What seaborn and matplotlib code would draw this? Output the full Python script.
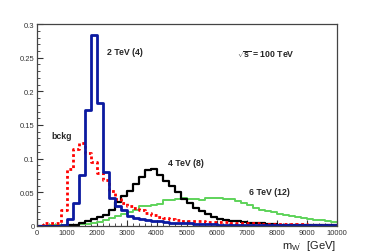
import numpy as np
import pandas as pd
import matplotlib
matplotlib.use('Agg')
import matplotlib.pyplot as plt
import seaborn as sns
from matplotlib.ticker import MultipleLocator, FuncFormatter

# 200 GeV bins from 0 to 10 TeV
edges = list(range(0, 10001, 200))
centers = [e + 100 for e in edges[:-1]]

bckg = [0.0, 0.004, 0.004, 0.005, 0.023, 0.085, 0.114, 0.123, 0.108, 0.095,
        0.079, 0.068, 0.052, 0.040, 0.034, 0.030, 0.027, 0.023, 0.019, 0.016,
        0.014, 0.012, 0.010, 0.009, 0.008, 0.0075, 0.007, 0.007, 0.0065, 0.006,
        0.006, 0.0055, 0.005, 0.005, 0.0045, 0.004, 0.004, 0.0035, 0.0035, 0.003,
        0.003, 0.003, 0.0025, 0.0025, 0.0025, 0.002, 0.002, 0.002, 0.0015, 0.0015]

wp_2tev = [0.0, 0.0, 0.0, 0.0, 0.002, 0.011, 0.034, 0.075, 0.173, 0.284,
           0.182, 0.080, 0.042, 0.030, 0.024, 0.015, 0.012, 0.010, 0.009, 0.008,
           0.007, 0.006, 0.005, 0.005, 0.004, 0.004, 0.003, 0.003, 0.003, 0.003,
           0.002, 0.002, 0.002, 0.002, 0.002, 0.002, 0.002, 0.002, 0.002, 0.002,
           0.001, 0.001, 0.001, 0.001, 0.001, 0.001, 0.001, 0.001, 0.001, 0.001]

wp_4tev = [0.0, 0.0, 0.0, 0.0, 0.0, 0.001, 0.002, 0.004, 0.007, 0.010,
           0.013, 0.016, 0.023, 0.035, 0.045, 0.052, 0.063, 0.073, 0.083, 0.085,
           0.076, 0.067, 0.059, 0.050, 0.040, 0.034, 0.027, 0.022, 0.018, 0.014,
           0.011, 0.009, 0.008, 0.007, 0.006, 0.005, 0.004, 0.004, 0.003, 0.003,
           0.002, 0.002, 0.002, 0.0015, 0.0015, 0.0015, 0.001, 0.001, 0.001, 0.001]

wp_6tev = [0.0, 0.0, 0.001, 0.001, 0.001, 0.0015, 0.002, 0.0025, 0.003, 0.0045,
           0.006, 0.009, 0.012, 0.015, 0.018, 0.020, 0.023, 0.029, 0.029, 0.031,
           0.033, 0.038, 0.038, 0.040, 0.041, 0.040, 0.040, 0.038, 0.042, 0.041,
           0.041, 0.040, 0.040, 0.037, 0.034, 0.031, 0.027, 0.024, 0.022, 0.020,
           0.018, 0.016, 0.015, 0.013, 0.012, 0.010, 0.0095, 0.0085, 0.007, 0.006]

df = pd.DataFrame({'m': centers, 'bckg': bckg, 'w2': wp_2tev,
                   'w4': wp_4tev, 'w6': wp_6tev})

sns.set_style('white')
plt.rcParams['font.family'] = ['Liberation Sans', 'DejaVu Sans']
plt.rcParams['mathtext.fontset'] = 'custom'
plt.rcParams['mathtext.rm'] = 'Liberation Sans'
plt.rcParams['mathtext.it'] = 'Liberation Sans'
plt.rcParams['mathtext.bf'] = 'Liberation Sans:bold'

fig = plt.figure(figsize=(3.74, 2.53), dpi=100)
ax = fig.add_axes([0.098, 0.103, 0.802, 0.798])

# green, black, red, blue
sns.histplot(data=df, x='m', weights='w6', bins=edges, element='step', fill=False,
             color='#5ed35a', linewidth=1.4, ax=ax)
sns.histplot(data=df, x='m', weights='w4', bins=edges, element='step', fill=False,
             color='black', linewidth=1.6, ax=ax)
sns.histplot(data=df, x='m', weights='bckg', bins=edges, element='step', fill=False,
             color='#ff0000', linewidth=2.0, linestyle=(0, (1, 1)), ax=ax)
sns.histplot(data=df, x='m', weights='w2', bins=edges, element='step', fill=False,
             color='#0b1aa0', linewidth=2.0, ax=ax)

ax.set_xlim(0, 10000)
ax.set_ylim(0, 0.3)
ax.set_xlabel('')
ax.set_ylabel('')

ax.xaxis.set_major_locator(MultipleLocator(1000))
ax.xaxis.set_minor_locator(MultipleLocator(200))
ax.yaxis.set_major_locator(MultipleLocator(0.05))
ax.yaxis.set_minor_locator(MultipleLocator(0.01))
ax.yaxis.set_major_formatter(FuncFormatter(lambda v, p: '%g' % round(v, 3)))
ax.xaxis.set_major_formatter(FuncFormatter(lambda v, p: '%d' % v))

ax.tick_params(which='both', direction='in', top=False, right=False,
               left=True, bottom=True, colors='#333333', labelsize=5.5)
ax.tick_params(which='major', length=4.5, width=0.8)
ax.tick_params(which='minor', length=2.2, width=0.6)
ax.tick_params(axis='y', pad=1.5)
ax.tick_params(axis='x', pad=2)

for s in ax.spines.values():
    s.set_color('#444444')
    s.set_linewidth(0.9)

tkw = dict(transform=ax.transAxes, fontsize=6.3, fontweight='bold',
           ha='left', va='center')
ax.text(0.2345, 0.866, '2 TeV (4)', **tkw)
ax.text(0.668, 0.851, r'$\sqrt{\mathbf{s}}$ = 100 TeV', **tkw)
ax.text(0.050, 0.446, 'bckg', **tkw)
ax.text(0.438, 0.314, '4 TeV (8)', **tkw)
ax.text(0.708, 0.173, '6 TeV (12)', **tkw)

fig.text(0.899, 0.029, r"m$_{\mathrm{W'}}$  [GeV]", fontsize=8,
         ha='right', va='center', color='#222222')

fig.savefig('out.png', dpi=100)
